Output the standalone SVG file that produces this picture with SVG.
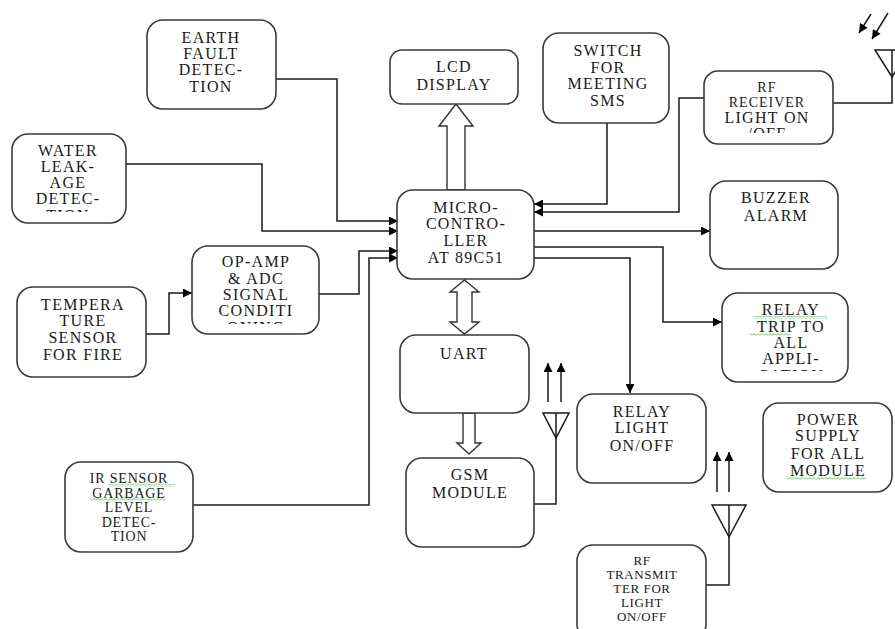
<svg xmlns="http://www.w3.org/2000/svg" width="895" height="629" viewBox="0 0 895 629">
<style>
.box{fill:#fff;stroke:#3a3a3a;stroke-width:1.6}
text{font-family:'Liberation Serif','DejaVu Serif','Times New Roman',serif}
.t{font-size:16px;letter-spacing:1.3px;fill:#1a1a1a;text-anchor:middle}
.s{font-size:13px;letter-spacing:1.2px}
.w{fill:none;stroke:#1a1a1a;stroke-width:1.5}
.a{marker-end:url(#ah)}
.hol{fill:#fff;stroke:#333;stroke-width:1.4}
.sq{fill:url(#squig)}
</style>
<defs>
<marker id="ah" viewBox="0 0 10 10" refX="10" refY="5" markerWidth="7" markerHeight="6" markerUnits="strokeWidth" orient="auto">
<path d="M0,0 L10,5 L0,10 z" fill="#000"/>
</marker>
<pattern id="squig" width="4" height="3" patternUnits="userSpaceOnUse">
<polyline points="0,2.5 2,0.5 4,2.5" fill="none" stroke="#3aa83a" stroke-width="0.8"/>
</pattern>
<clipPath id="cWater" clipPathUnits="userSpaceOnUse"><rect x="12" y="134" width="114" height="78"/></clipPath>
<clipPath id="cOp" clipPathUnits="userSpaceOnUse"><rect x="192" y="246" width="127" height="78"/></clipPath>
<clipPath id="cRx" clipPathUnits="userSpaceOnUse"><rect x="704" y="71" width="129" height="62"/></clipPath>
<clipPath id="cTrip" clipPathUnits="userSpaceOnUse"><rect x="722" y="293" width="126" height="78"/></clipPath>
</defs>

<g id="connectors">
<polyline class="w a" points="276,79 337,79 337,221 398,221"/>
<polyline class="w a" points="126,164 262,164 262,231 398,231"/>
<polyline class="w a" points="319,294 359,294 359,251 398,251"/>
<polyline class="w a" points="193,505 369,505 369,258 398,258"/>
<polyline class="w a" points="146,334 169,334 169,293 192,293"/>
<polyline class="w a" points="607,123 607,204 534,204"/>
<polyline class="w a" points="704,98 679,98 679,212 534,212"/>
<polyline class="w a" points="534,231 710,231"/>
<polyline class="w a" points="534,247 663,247 663,322 722,322"/>
<polyline class="w a" points="534,258 630,258 630,393"/>
<polyline class="w" points="833,103 892,103 892,50"/>
<polyline class="w" points="534,504 556,504 556,413"/>
<polyline class="w" points="706,585 729,585 729,505"/>
<polygon class="hol" points="447,190 447,126 439,126 456,104 473,126 465,126 465,190"/>
<polygon class="hol" points="464.5,280 479,292 472,292 472,322 479,322 464.5,334 450,322 457,322 457,292 450,292"/>
<polygon class="hol" points="463,413 463,443 457,443 469,454 481,443 475,443 475,413"/>
</g>

<g id="antenna-rx">
<polygon points="875,50 909,50 892,77" fill="none" stroke="#1a1a1a" stroke-width="1.5"/>
<line class="w a" x1="871" y1="14" x2="859" y2="33"/>
<line class="w a" x1="888" y1="13" x2="872" y2="39"/>
</g>
<g id="antenna-gsm">
<polygon points="543,413 569,413 556,438" fill="none" stroke="#1a1a1a" stroke-width="1.5"/>
<line class="w a" x1="548" y1="402" x2="548" y2="363"/>
<line class="w a" x1="561" y1="402" x2="561" y2="363"/>
</g>
<g id="antenna-tx">
<polygon points="712,505 746,505 729,537" fill="none" stroke="#1a1a1a" stroke-width="1.5"/>
<line class="w a" x1="717" y1="492" x2="717" y2="452"/>
<line class="w a" x1="729" y1="492" x2="729" y2="452"/>
</g>

<g id="earth-fault">
<rect class="box" x="147" y="20" width="129" height="89" rx="16"/>
<text class="t" font-family="Liberation Serif, serif"><tspan x="211" y="43">EARTH</tspan><tspan x="211" y="59">FAULT</tspan><tspan x="211" y="75">DETEC-</tspan><tspan x="211" y="92">TION</tspan></text>
</g>
<g id="water-leakage">
<rect class="box" x="12" y="134" width="114" height="89" rx="16"/>
<text class="t" clip-path="url(#cWater)"><tspan x="68" y="156">WATER</tspan><tspan x="68" y="172">LEAK-</tspan><tspan x="68" y="188">AGE</tspan><tspan x="68" y="204">DETEC-</tspan><tspan x="68" y="221">TION</tspan></text>
</g>
<g id="lcd">
<rect class="box" x="390" y="50" width="128" height="54" rx="12"/>
<text class="t"><tspan x="454" y="72">LCD</tspan><tspan x="454" y="90">DISPLAY</tspan></text>
</g>
<g id="switch">
<rect class="box" x="543" y="33" width="126" height="90" rx="16"/>
<text class="t"><tspan x="608" y="56">SWITCH</tspan><tspan x="608" y="73">FOR</tspan><tspan x="608" y="89">MEETING</tspan><tspan x="608" y="106">SMS</tspan></text>
</g>
<g id="rf-receiver">
<rect class="box" x="704" y="71" width="129" height="73" rx="14"/>
<text class="t" clip-path="url(#cRx)"><tspan x="767" y="92" style="font-size:14px">RF</tspan><tspan x="767" y="107" style="font-size:14px;letter-spacing:1px">RECEIVER</tspan><tspan x="767" y="123">LIGHT ON</tspan><tspan x="767" y="139">/OFF</tspan></text>
</g>
<g id="microcontroller">
<rect class="box" x="397" y="190" width="137" height="89" rx="16"/>
<text class="t"><tspan x="466" y="213">MICRO-</tspan><tspan x="466" y="229">CONTRO-</tspan><tspan x="466" y="246">LLER</tspan><tspan x="466" y="263">AT 89C51</tspan></text>
</g>
<g id="buzzer">
<rect class="box" x="710" y="181" width="128" height="88" rx="16"/>
<text class="t"><tspan x="776" y="203">BUZZER</tspan><tspan x="776" y="221">ALARM</tspan></text>
</g>
<g id="opamp">
<rect class="box" x="192" y="246" width="127" height="88" rx="16"/>
<text class="t" clip-path="url(#cOp)"><tspan x="256" y="267">OP-AMP</tspan><tspan x="256" y="284">&amp; ADC</tspan><tspan x="256" y="300">SIGNAL</tspan><tspan x="256" y="316">CONDITI</tspan><tspan x="256" y="333">ONING</tspan></text>
</g>
<g id="temperature">
<rect class="box" x="17" y="287" width="129" height="90" rx="16"/>
<text class="t"><tspan x="83" y="310">TEMPERA</tspan><tspan x="83" y="326">TURE</tspan><tspan x="83" y="343">SENSOR</tspan><tspan x="83" y="360">FOR FIRE</tspan></text>
</g>
<g id="relay-trip">
<rect class="box" x="722" y="293" width="126" height="89" rx="16"/>
<text class="t" clip-path="url(#cTrip)"><tspan x="791" y="315">RELAY</tspan><tspan x="791" y="332">TRIP TO</tspan><tspan x="791" y="348">ALL</tspan><tspan x="791" y="364">APPLI-</tspan><tspan x="791" y="381">CATION</tspan></text>
<rect class="sq" x="754" y="316" width="73" height="3"/>
<rect class="sq" x="750" y="333" width="40" height="3"/>
</g>
<g id="uart">
<rect class="box" x="400" y="335" width="129" height="78" rx="16"/>
<text class="t" x="464" y="359">UART</text>
</g>
<g id="relay-light">
<rect class="box" x="577" y="394" width="129" height="89" rx="16"/>
<text class="t"><tspan x="642" y="417">RELAY</tspan><tspan x="642" y="433">LIGHT</tspan><tspan x="642" y="451">ON/OFF</tspan></text>
</g>
<g id="power-supply">
<rect class="box" x="763" y="403" width="129" height="89" rx="16"/>
<text class="t"><tspan x="828" y="425">POWER</tspan><tspan x="828" y="441">SUPPLY</tspan><tspan x="828" y="459">FOR ALL</tspan><tspan x="828" y="476">MODULE</tspan></text>
<rect class="sq" x="787" y="477" width="79" height="3"/>
</g>
<g id="gsm">
<rect class="box" x="406" y="458" width="128" height="89" rx="16"/>
<text class="t"><tspan x="470" y="480">GSM</tspan><tspan x="470" y="498">MODULE</tspan></text>
</g>
<g id="ir-sensor">
<rect class="box" x="65" y="462" width="128" height="90" rx="16"/>
<text class="t" style="font-size:14px;letter-spacing:0.8px"><tspan x="129" y="483">IR SENSOR</tspan><tspan x="129" y="498">GARBAGE</tspan><tspan x="129" y="512">LEVEL</tspan><tspan x="129" y="527">DETEC-</tspan><tspan x="129" y="541">TION</tspan></text>
<rect class="sq" x="108" y="484" width="67" height="3"/>
<rect class="sq" x="90" y="498" width="76" height="3"/>
</g>
<g id="rf-transmitter">
<rect class="box" x="577" y="545" width="129" height="95" rx="16"/>
<text class="t" style="font-size:13px;letter-spacing:0.6px"><tspan x="642" y="565">RF</tspan><tspan x="642" y="579">TRANSMIT</tspan><tspan x="642" y="593">TER FOR</tspan><tspan x="642" y="607">LIGHT</tspan><tspan x="642" y="621">ON/OFF</tspan></text>
</g>
</svg>
